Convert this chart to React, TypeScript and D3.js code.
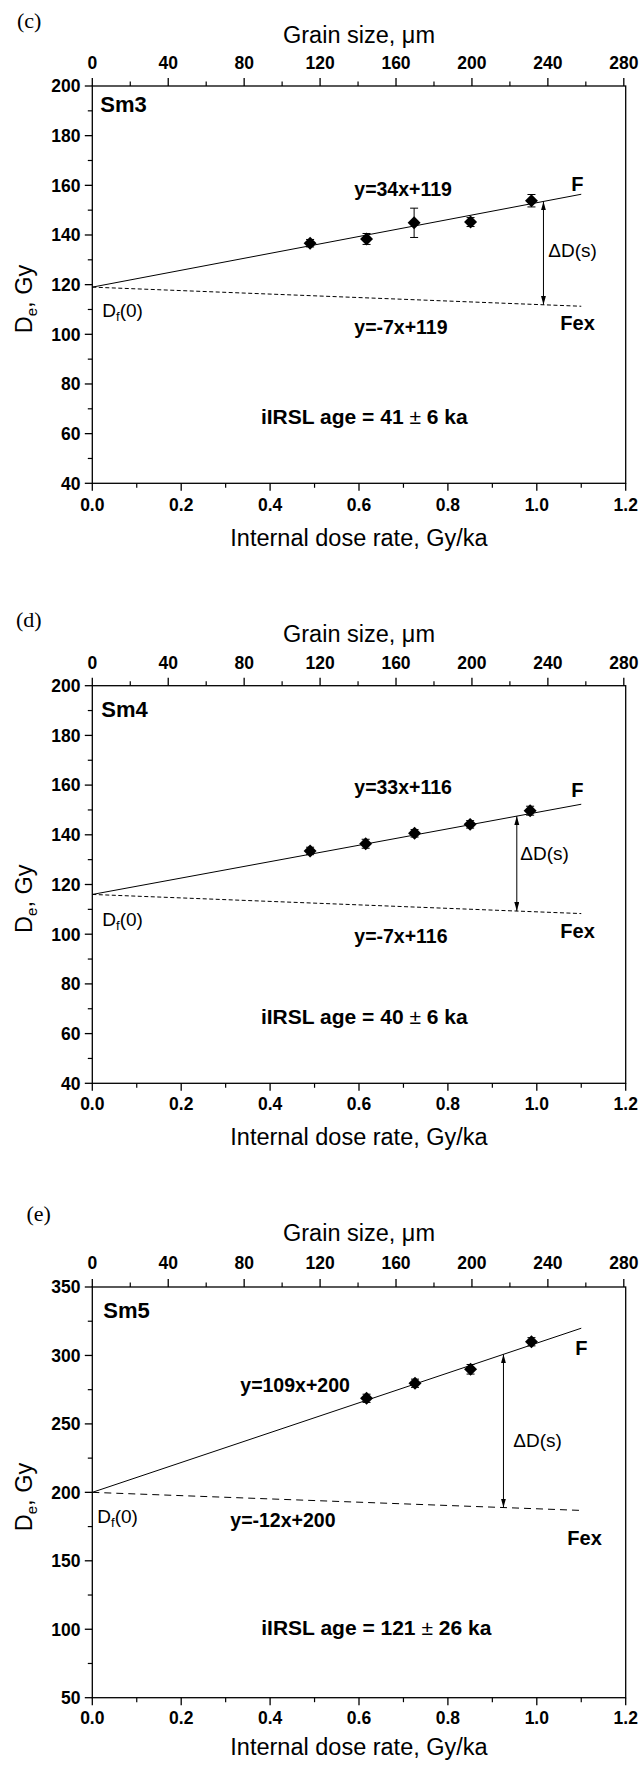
import React from 'react';
import * as d3 from 'd3';

// ---- data ----
// (c) Sm3
const doseRateSm3 = [0.49, 0.617, 0.724, 0.851, 0.988];
const deSm3 = [136.7, 138.4, 144.9, 145.2, 153.8];
const errSm3 = [1.5, 2.2, 5.9, 1.8, 2.5];
// (d) Sm4
const doseRateSm4 = [0.49, 0.615, 0.725, 0.85, 0.985];
const deSm4 = [133.5, 136.4, 140.6, 144.2, 149.7];
const errSm4 = [1.5, 1.8, 1.5, 1.5, 1.8];
// (e) Sm5
const doseRateSm5 = [0.617, 0.726, 0.851, 0.988];
const deSm5 = [268.7, 279.7, 289.9, 310];
const errSm5 = [3, 3, 3.5, 3];

const fitSlope = [34, 33, 109];
const fitIntercept = [119, 116, 200];
const fexSlope = [-7, -7, -12];
const fitEnd = 1.1;
const arrowX = [1.015, 0.955, 0.925];

const panelLetters = ['(c)', '(d)', '(e)'];
const sampleNames = ['Sm3', 'Sm4', 'Sm5'];
const ageTexts = [['41', '6'], ['40', '6'], ['121', '26']];
const yDomains = [[40, 200], [40, 200], [50, 350]];
const yMajorSteps = [20, 20, 50];
const xMajorTicks = [0, 0.2, 0.4, 0.6, 0.8, 1.0, 1.2];
const grainTicks = [0, 40, 80, 120, 160, 200, 240, 280];

const series = [
  { x: doseRateSm3, y: deSm3, e: errSm3 },
  { x: doseRateSm4, y: deSm4, e: errSm4 },
  { x: doseRateSm5, y: deSm5, e: errSm5 },
];

// ---- layout ----
const LEFT = 92.3;
const RIGHT = 625.7;
const FONT = "'Liberation Sans', Arial, Helvetica, sans-serif";
const SERIF = "'Liberation Serif', 'Times New Roman', serif";

const layouts = [
  {
    top: 86, bottom: 483.3, letter: [17, 28], grainTitleY: 42.7, topLabelY: 69,
    bottomLabelY: 510.7, xTitleY: 545.5, yTitleCY: 299, dash: '4,2.5',
    sm: [8, 26], eq1: [262, 110], F: [479, 105], dD: [456, 171], Df: [10, 231],
    eq2: [262, 248], Fex: [468, 244], age: [272, 338],
  },
  {
    top: 685.7, bottom: 1083.3, letter: [16, 627], grainTitleY: 642.2, topLabelY: 668.5,
    bottomLabelY: 1110.2, xTitleY: 1145, yTitleCY: 898.7, dash: '4,2.5',
    sm: [9, 31], eq1: [262, 108], F: [479, 111], dD: [428, 174], Df: [10, 240],
    eq2: [262, 257], Fex: [468, 252], age: [272, 338],
  },
  {
    top: 1287, bottom: 1697.7, letter: [26.5, 1221], grainTitleY: 1240.7, topLabelY: 1269,
    bottomLabelY: 1724, xTitleY: 1754.5, yTitleCY: 1497, dash: '7,5',
    sm: [11, 31], eq1: [148, 105], F: [483, 68], dD: [421, 160], Df: [5, 236],
    eq2: [138, 240], Fex: [475, 258], age: [284, 348],
  },
];

function Panel({ i }: { i: number }) {
  const L = layouts[i];
  const s = series[i];
  const x = d3.scaleLinear().domain([0, 1.2]).range([LEFT, RIGHT]);
  const xTop = d3.scaleLinear().domain([0, 281]).range([LEFT, RIGHT]);
  const y = d3.scaleLinear().domain(yDomains[i]).range([L.bottom, L.top]);
  const [y0, y1] = yDomains[i];
  const yMajor = d3.range(y0, y1 + 0.001, yMajorSteps[i]);
  const yMinor = d3.range(y0 + yMajorSteps[i] / 2, y1, yMajorSteps[i]);
  const xMinor = d3.range(0.1, 1.2, 0.2);
  const gMinor = d3.range(20, 281, 40);

  const a = fitSlope[i];
  const b = fitIntercept[i];
  const c = fexSlope[i];
  const line = d3.line<number>().x((d) => x(d)).y((d) => y(a * d + b));
  const lineFex = d3.line<number>().x((d) => x(d)).y((d) => y(c * d + b));
  const diamond = d3.symbol(d3.symbolSquare, 84)() as string;

  const ax = arrowX[i];
  const px = LEFT;
  const pt = L.top;

  return (
    <g>
      <text x={L.letter[0]} y={L.letter[1]} fontFamily={SERIF} fontSize={22}>
        {panelLetters[i]}
      </text>
      <text x={(LEFT + RIGHT) / 2} y={L.grainTitleY} textAnchor="middle" fontFamily={FONT} fontSize={23.5}>
        Grain size, μm
      </text>
      {/* top axis */}
      {grainTicks.map((t) => (
        <g key={'gt' + t}>
          <line x1={xTop(t)} x2={xTop(t)} y1={L.top} y2={L.top - 8} stroke="#000" strokeWidth={1.3} />
          <text x={xTop(t)} y={L.topLabelY} textAnchor="middle" fontFamily={FONT} fontWeight="bold" fontSize={17.5}>
            {t}
          </text>
        </g>
      ))}
      {gMinor.map((t) => (
        <line key={'gm' + t} x1={xTop(t)} x2={xTop(t)} y1={L.top} y2={L.top - 4.5} stroke="#000" strokeWidth={1.2} />
      ))}
      {/* bottom axis */}
      {xMajorTicks.map((t) => (
        <g key={'xt' + t}>
          <line x1={x(t)} x2={x(t)} y1={L.bottom} y2={L.bottom + 7.5} stroke="#000" strokeWidth={1.3} />
          <text x={x(t)} y={L.bottomLabelY} textAnchor="middle" fontFamily={FONT} fontWeight="bold" fontSize={17.5}>
            {t.toFixed(1)}
          </text>
        </g>
      ))}
      {xMinor.map((t) => (
        <line key={'xm' + t} x1={x(t)} x2={x(t)} y1={L.bottom} y2={L.bottom + 4.5} stroke="#000" strokeWidth={1.2} />
      ))}
      <text x={(LEFT + RIGHT) / 2} y={L.xTitleY} textAnchor="middle" fontFamily={FONT} fontSize={23.5}>
        Internal dose rate, Gy/ka
      </text>
      {/* left axis */}
      {yMajor.map((t) => (
        <g key={'yt' + t}>
          <line x1={LEFT - 7.5} x2={LEFT} y1={y(t)} y2={y(t)} stroke="#000" strokeWidth={1.3} />
          <text x={80.5} y={y(t)} dy="0.36em" textAnchor="end" fontFamily={FONT} fontWeight="bold" fontSize={17.5}>
            {t}
          </text>
        </g>
      ))}
      {yMinor.map((t) => (
        <line key={'ym' + t} x1={LEFT - 4.5} x2={LEFT} y1={y(t)} y2={y(t)} stroke="#000" strokeWidth={1.2} />
      ))}
      <text
        transform={`translate(32,${L.yTitleCY}) rotate(-90)`}
        textAnchor="middle"
        fontFamily={FONT}
        fontSize={23.5}
      >
        D<tspan fontSize={15} dy={5}>e</tspan>
        <tspan dy={-5}>, Gy</tspan>
      </text>
      {/* frame */}
      <rect x={LEFT} y={L.top} width={RIGHT - LEFT} height={L.bottom - L.top} fill="none" stroke="#000" strokeWidth={1.3} />

      {/* fit lines */}
      <path d={line([0, fitEnd]) as string} fill="none" stroke="#000" strokeWidth={1} />
      <path d={lineFex([0, fitEnd]) as string} fill="none" stroke="#000" strokeWidth={1} strokeDasharray={L.dash} />

      {/* arrow */}
      <line
        x1={x(ax)}
        x2={x(ax)}
        y1={y(a * ax + b)}
        y2={y(c * ax + b)}
        stroke="#000"
        strokeWidth={1}
        markerStart="url(#arrowHead)"
        markerEnd="url(#arrowHead)"
      />

      {/* error bars and points */}
      {s.x.map((xv, k) => {
        const cx = x(xv);
        const yt = y(s.y[k] + s.e[k]);
        const yb = y(s.y[k] - s.e[k]);
        return (
          <g key={'p' + k}>
            <line x1={cx} x2={cx} y1={yt} y2={yb} stroke="#000" strokeWidth={1} />
            <line x1={cx - 4} x2={cx + 4} y1={yt} y2={yt} stroke="#000" strokeWidth={1} />
            <line x1={cx - 4} x2={cx + 4} y1={yb} y2={yb} stroke="#000" strokeWidth={1} />
            <path d={diamond} transform={`translate(${cx},${y(s.y[k])}) rotate(45)`} fill="#000" />
          </g>
        );
      })}

      {/* annotations */}
      <text x={px + L.sm[0]} y={pt + L.sm[1]} fontFamily={FONT} fontWeight="bold" fontSize={22}>
        {sampleNames[i]}
      </text>
      <text x={px + L.eq1[0]} y={pt + L.eq1[1]} fontFamily={FONT} fontWeight="bold" fontSize={19.5}>
        {`y=${a}x+${b}`}
      </text>
      <text x={px + L.F[0]} y={pt + L.F[1]} fontFamily={FONT} fontWeight="bold" fontSize={20}>
        F
      </text>
      <text x={px + L.dD[0]} y={pt + L.dD[1]} fontFamily={FONT} fontSize={19}>
        ΔD(s)
      </text>
      <text x={px + L.Df[0]} y={pt + L.Df[1]} fontFamily={FONT} fontSize={19}>
        D<tspan fontSize={13} dy={4}>f</tspan>
        <tspan dy={-4}>(0)</tspan>
      </text>
      <text x={px + L.eq2[0]} y={pt + L.eq2[1]} fontFamily={FONT} fontWeight="bold" fontSize={19.5}>
        {`y=${c}x+${b}`}
      </text>
      <text x={px + L.Fex[0]} y={pt + L.Fex[1]} fontFamily={FONT} fontWeight="bold" fontSize={20}>
        Fex
      </text>
      <text x={px + L.age[0]} y={pt + L.age[1]} textAnchor="middle" fontFamily={FONT} fontWeight="bold" fontSize={21}>
        {`iIRSL age = ${ageTexts[i][0]} `}
        <tspan fontWeight="normal">±</tspan>
        {` ${ageTexts[i][1]} ka`}
      </text>
    </g>
  );
}

export default function App() {
  return (
    <svg
      width={640}
      height={1769}
      viewBox="0 0 640 1769"
      style={{ position: 'absolute', left: 0, top: 0, background: '#fff' }}
    >
      <defs>
        <marker
          id="arrowHead"
          markerUnits="userSpaceOnUse"
          markerWidth={10}
          markerHeight={6}
          refX={9}
          refY={2.5}
          orient="auto-start-reverse"
        >
          <path d="M0,0 L9,2.5 L0,5 Z" fill="#000" />
        </marker>
      </defs>
      <rect x={0} y={0} width={640} height={1769} fill="#fff" />
      {[0, 1, 2].map((i) => (
        <Panel key={i} i={i} />
      ))}
    </svg>
  );
}
